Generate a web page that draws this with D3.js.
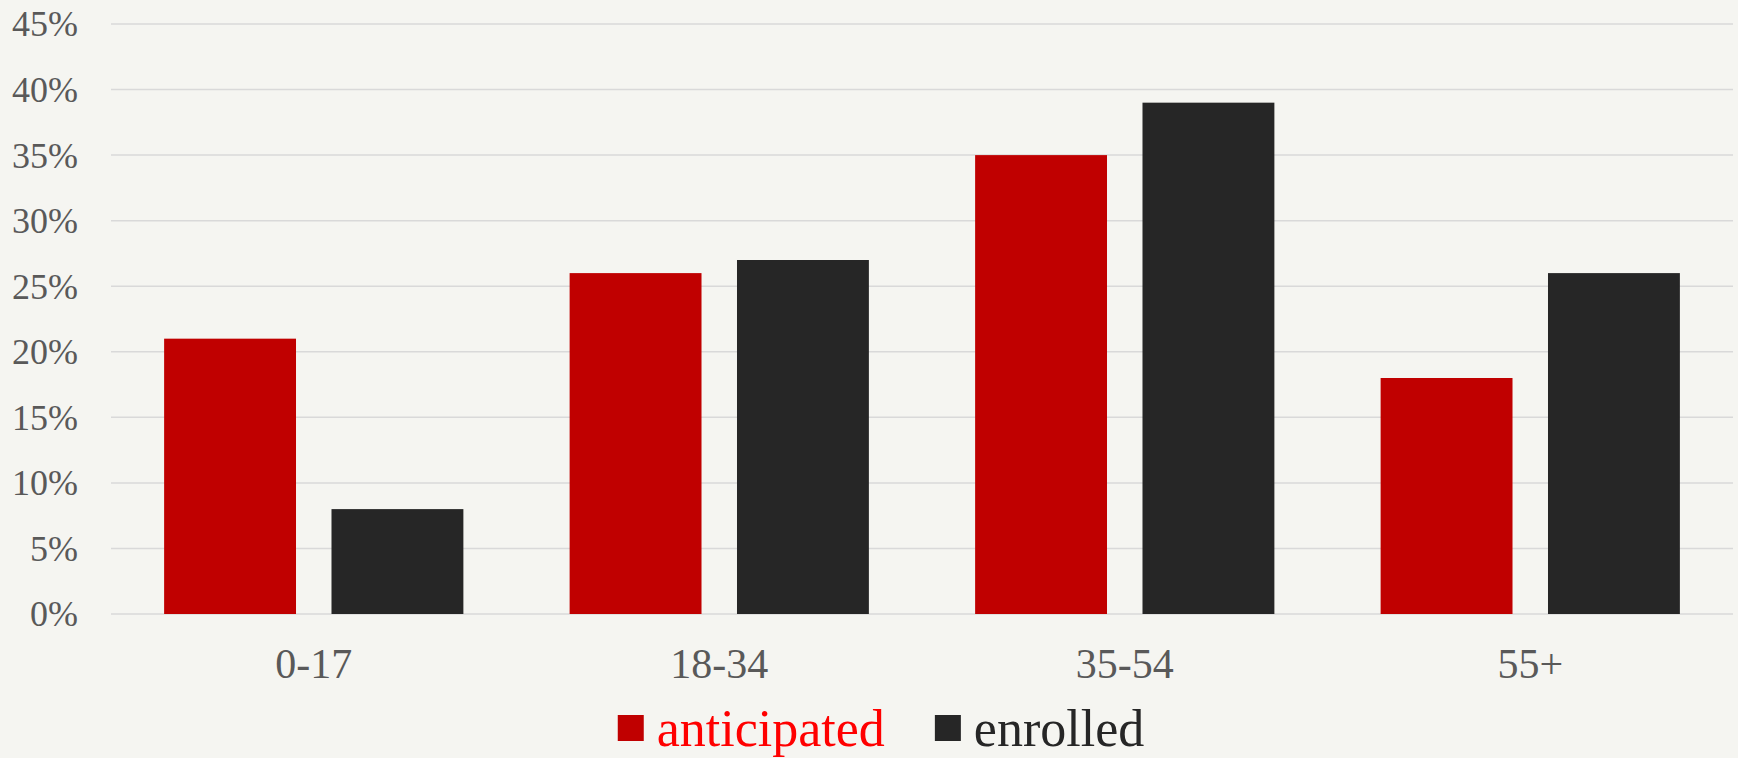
<!DOCTYPE html>
<html>
<head>
<meta charset="utf-8">
<script src="https://cdn.jsdelivr.net/npm/d3@7"></script>
<style>
  html, body { margin: 0; padding: 0; background: #f5f5f1; }
  svg { display: block; }
</style>
</head>
<body>
<div class="vis-barchart"></div>
<script>
const categories = ['0-17', '18-34', '35-54', '55+'];
const seriesNames = ['anticipated', 'enrolled'];
const anticipated = [0.21, 0.26, 0.35, 0.18];
const enrolled = [0.08, 0.27, 0.39, 0.26];
const yTicks = [0, 0.05, 0.10, 0.15, 0.20, 0.25, 0.30, 0.35, 0.40, 0.45];

const barColors = { anticipated: '#c00000', enrolled: '#262626' };
const legendTextColors = { anticipated: '#ff0000', enrolled: '#262626' };

const width = 1738;
const height = 758;
const margin = { top: 24, right: 5, bottom: 144, left: 111 };
const font = '"Liberation Serif", "Times New Roman", serif';

const data = categories.map((c, i) => ({
    cat: c,
    values: [
        { key: 'anticipated', value: anticipated[i] },
        { key: 'enrolled', value: enrolled[i] }
    ]
}));

const svg = d3.select('.vis-barchart').append('svg')
    .attr('width', width)
    .attr('height', height);

svg.append('rect')
    .attr('width', width)
    .attr('height', height)
    .attr('fill', '#f5f5f1');

const x0 = d3.scaleBand()
    .domain(categories)
    .range([margin.left, width - margin.right])
    .padding(0);

const bw = x0.bandwidth();
const x1 = d3.scaleBand()
    .domain(seriesNames)
    .range([bw * 0.131, bw * 0.869])
    .paddingInner(0.212);

const y = d3.scaleLinear()
    .domain([0, 0.45])
    .range([height - margin.bottom, margin.top]);

// gridlines
svg.append('g')
    .selectAll('line')
    .data(yTicks)
    .enter().append('line')
    .attr('x1', margin.left)
    .attr('x2', width - margin.right)
    .attr('y1', d => y(d))
    .attr('y2', d => y(d))
    .attr('stroke', '#d9d9d9')
    .attr('stroke-width', 1.5);

// y axis labels
const yAxis = svg.append('g')
    .attr('transform', 'translate(78,0)')
    .call(d3.axisLeft(y).tickValues(yTicks).tickSize(0).tickPadding(0).tickFormat(d3.format('.0%')));
yAxis.select('.domain').remove();
yAxis.selectAll('text')
    .attr('font-family', font)
    .attr('font-size', 36)
    .attr('fill', '#595959')
    .attr('dy', '0.33em');

// bars
const groups = svg.append('g')
    .selectAll('g')
    .data(data)
    .enter().append('g')
    .attr('transform', d => 'translate(' + x0(d.cat) + ',0)');

groups.selectAll('rect')
    .data(d => d.values)
    .enter().append('rect')
    .attr('x', d => x1(d.key))
    .attr('width', x1.bandwidth())
    .attr('y', d => y(d.value))
    .attr('height', d => y(0) - y(d.value))
    .attr('fill', d => barColors[d.key]);

// x axis labels
const xAxis = svg.append('g')
    .attr('transform', 'translate(0,' + y(0) + ')')
    .call(d3.axisBottom(x0).tickSize(0).tickPadding(0));
xAxis.select('.domain').remove();
xAxis.selectAll('text')
    .attr('font-family', font)
    .attr('font-size', 42)
    .attr('fill', '#595959')
    .attr('dy', null)
    .attr('y', 64);

// legend
const legend = svg.append('g');
let cursor = 0;
seriesNames.forEach((name, i) => {
    const g = legend.append('g').attr('transform', 'translate(' + cursor + ',0)');
    g.append('rect')
        .attr('x', 0)
        .attr('y', -31)
        .attr('width', 26)
        .attr('height', 26)
        .attr('fill', barColors[name]);
    const t = g.append('text')
        .attr('x', 39)
        .attr('y', 0)
        .attr('font-family', font)
        .attr('font-size', 52)
        .attr('fill', legendTextColors[name])
        .text(name);
    cursor += 39 + t.node().getComputedTextLength() + 50;
});
const legendWidth = cursor - 50;
legend.attr('transform', 'translate(' + (881 - legendWidth / 2) + ',746)');
</script>
</body>
</html>
